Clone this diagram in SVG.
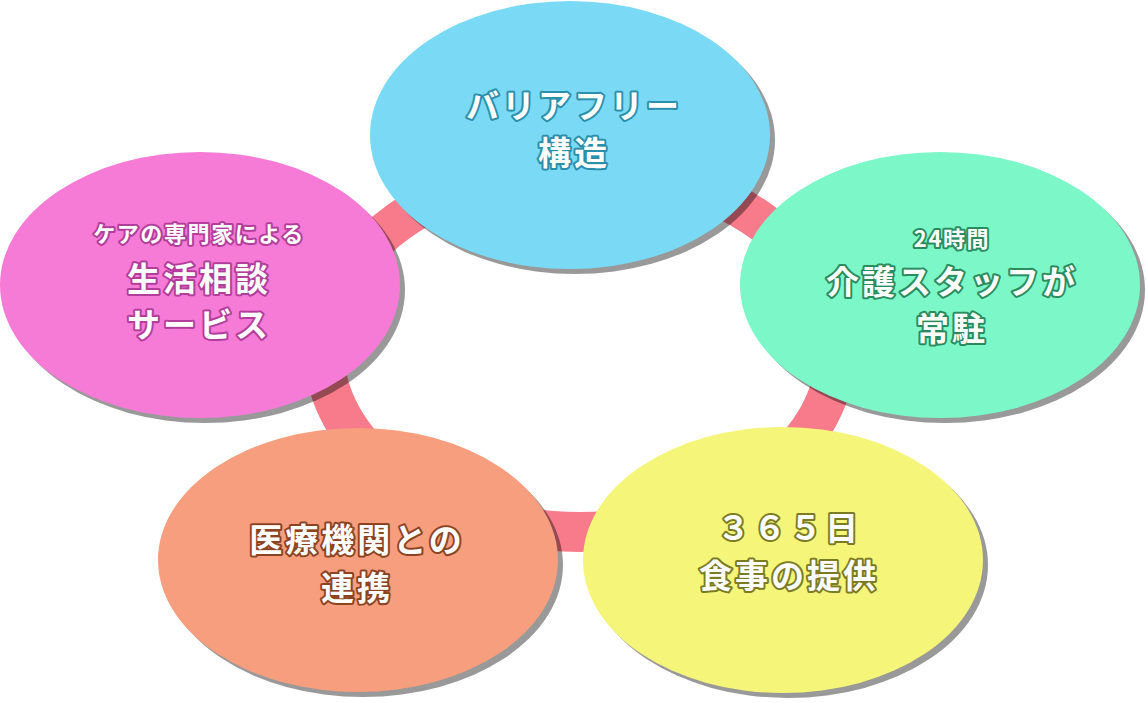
<svg xmlns="http://www.w3.org/2000/svg" width="1146" height="703" viewBox="0 0 1146 703">
<style>
.shadow{fill:#000;fill-opacity:0.4}
.t{font-family:"Noto Sans CJK JP","Noto Sans",sans-serif;font-weight:bold;fill:#fff;stroke-width:4;stroke-linejoin:round;paint-order:stroke fill;text-anchor:middle;dominant-baseline:central}
.big{font-size:33px;letter-spacing:3px}
.small{font-size:22px;letter-spacing:1.6px}
</style>
<rect width="1146" height="703" fill="#fff"/>
<g id="connectors">
<ellipse cx="580" cy="350" rx="256" ry="182" fill="none" stroke="#f77b8a" stroke-width="40"/>
</g>
<g id="node-barrierfree">
<ellipse class="shadow" cx="575" cy="140" rx="200" ry="134"/>
<ellipse cx="570" cy="135" rx="200" ry="134" fill="#7adaf5"/>
<text class="t big" x="574" y="104" stroke="#2b8fac">バリアフリー</text>
<text class="t big" x="574" y="151" stroke="#2b8fac">構造</text>
</g>
<g id="node-consult">
<ellipse class="shadow" cx="205" cy="290" rx="200" ry="133"/>
<ellipse cx="200" cy="285" rx="200" ry="133" fill="#f67bd6"/>
<text class="t small" x="199" y="232" stroke="#b23d9a">ケアの専門家による</text>
<text class="t big" x="199" y="277" stroke="#b23d9a">生活相談</text>
<text class="t big" x="199" y="323" stroke="#b23d9a">サービス</text>
</g>
<g id="node-staff">
<ellipse class="shadow" cx="945" cy="290" rx="200" ry="133"/>
<ellipse cx="940" cy="285" rx="200" ry="133" fill="#7cf7c8"/>
<text class="t small" x="952" y="237" stroke="#2a8c5e">24時間</text>
<text class="t big" x="952" y="280" stroke="#2a8c5e">介護スタッフが</text>
<text class="t big" x="952" y="327" stroke="#2a8c5e">常駐</text>
</g>
<g id="node-medical">
<ellipse class="shadow" cx="363" cy="565" rx="200" ry="132"/>
<ellipse cx="358" cy="560" rx="200" ry="132" fill="#f69e7d"/>
<text class="t big" x="357" y="538" stroke="#8c4322">医療機関との</text>
<text class="t big" x="357" y="586" stroke="#8c4322">連携</text>
</g>
<g id="node-meal">
<ellipse class="shadow" cx="788" cy="565" rx="200" ry="133"/>
<ellipse cx="783" cy="560" rx="200" ry="133" fill="#f5f57a"/>
<text class="t big" x="789" y="526" stroke="#7b7b24">３６５日</text>
<text class="t big" x="789" y="574" stroke="#7b7b24">食事の提供</text>
</g>
</svg>
